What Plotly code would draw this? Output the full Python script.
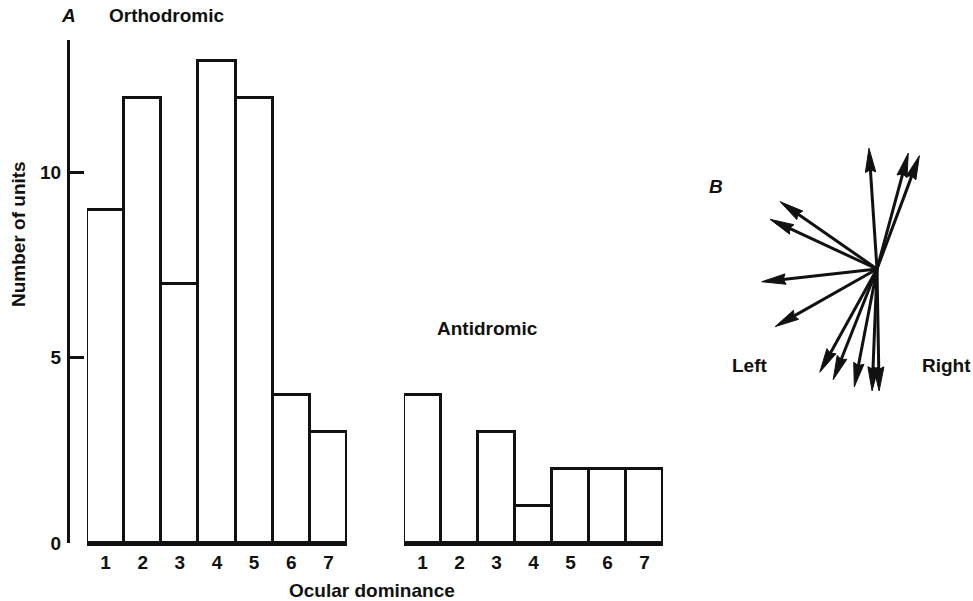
import numpy as np
import plotly.graph_objects as go

# Ocular dominance histograms (panel A)
dominance = [1, 2, 3, 4, 5, 6, 7]
orthodromic = [9, 12, 7, 13, 12, 4, 3]
antidromic = [4, 0, 3, 1, 2, 2, 2]
y_ticks = [0, 5, 10]

# Binocular interaction vectors (panel B): direction in degrees, length
vector_angle = [93.8, 74.9, 69.5, 145.2, 155.1, 186.3, 209.5, 241.0, 248.4, 259.1, 267.7, 271.0]
vector_length = [121, 120, 121, 118, 118, 116, 117, 118, 119, 120, 122, 122]

W, H = 973, 601
FONT = "Liberation Sans"
BLACK = "#111111"


def px_x(p):
    return p / W


def px_y(p):
    return 1 - p / H


fig = go.Figure()

bar_style = dict(marker=dict(color="white", line=dict(color=BLACK, width=3)),
                 width=1.0, cliponaxis=False, hoverinfo="skip", showlegend=False)
fig.add_trace(go.Bar(x=dominance, y=orthodromic, xaxis="x", yaxis="y", **bar_style))
fig.add_trace(go.Bar(x=dominance, y=antidromic, xaxis="x2", yaxis="y", **bar_style))

# Arrows for panel B, built in data units of a 1:1 pixel-scaled axis
head_len, head_half = 24.0, 5.2
shaft_x, shaft_y, head_x, head_y = [], [], [], []
for ang, length in zip(vector_angle, vector_length):
    t = np.deg2rad(ang)
    u = np.array([np.cos(t), np.sin(t)])
    n = np.array([-u[1], u[0]])
    tip = length * u
    base = tip - head_len * u
    notch = tip - 0.9 * head_len * u
    shaft_end = tip - 0.7 * head_len * u
    shaft_x += [0, shaft_end[0], None]
    shaft_y += [0, shaft_end[1], None]
    for p in (tip, base + head_half * n, notch, base - head_half * n, tip):
        head_x.append(p[0])
        head_y.append(p[1])
    head_x.append(None)
    head_y.append(None)

fig.add_trace(go.Scatter(x=shaft_x, y=shaft_y, xaxis="x3", yaxis="y3", mode="lines",
                         line=dict(color=BLACK, width=3), hoverinfo="skip",
                         showlegend=False, cliponaxis=False))
fig.add_trace(go.Scatter(x=head_x, y=head_y, xaxis="x3", yaxis="y3", mode="lines",
                         fill="toself", fillcolor=BLACK, line=dict(color=BLACK, width=1),
                         hoverinfo="skip", showlegend=False, cliponaxis=False))

y0_px, y10_px = 543.0, 172.5
unit_px = (y0_px - y10_px) / 10
y_top_px = 40.0
y_max = (y0_px - y_top_px) / unit_px

tick_font = dict(family=FONT, size=19, color=BLACK, weight="bold")
xaxis_common = dict(range=[0.5, 7.5], tickvals=dominance, ticktext=[str(d) for d in dominance],
                    ticks="", showline=True, linecolor=BLACK, linewidth=3, showgrid=False,
                    zeroline=False, tickfont=tick_font, anchor="y", automargin=False,
                    fixedrange=True)

fig.update_layout(
    width=W, height=H,
    margin=dict(l=0, r=0, t=0, b=0),
    paper_bgcolor="white", plot_bgcolor="white",
    bargap=0,
    xaxis=dict(domain=[px_x(87), px_x(347)], **xaxis_common),
    xaxis2=dict(domain=[px_x(404), px_x(663)], **xaxis_common),
    yaxis=dict(domain=[px_y(y0_px), px_y(y_top_px)], range=[0, y_max], anchor="free",
               position=px_x(68), tickvals=y_ticks, ticks="inside", ticklen=14,
               tickwidth=2.5, tickcolor=BLACK, showline=True, linecolor=BLACK,
               linewidth=3, showgrid=False, zeroline=False, tickfont=tick_font,
               ticklabelstandoff=2, automargin=False, fixedrange=True),
    xaxis3=dict(domain=[px_x(700), 1.0], range=[700 - 877, 973 - 877], visible=False,
                anchor="y3", fixedrange=True),
    yaxis3=dict(domain=[px_y(410), px_y(130)], range=[269 - 410, 269 - 130], visible=False,
                anchor="x3", fixedrange=True),
)

label_font = dict(family=FONT, size=19, color=BLACK, weight="bold")
letter_font = dict(family=FONT, size=19, color=BLACK, weight="bold", style="italic")


def add_text(text, x, y, font, angle=0):
    fig.add_annotation(text=text, x=px_x(x), y=px_y(y), xref="paper", yref="paper",
                       showarrow=False, font=font, textangle=angle,
                       xanchor="center", yanchor="middle")


add_text("A", 68, 16, letter_font)
add_text("Orthodromic", 166, 16, label_font)
add_text("Antidromic", 487, 328, label_font)
add_text("Ocular dominance", 372, 590, label_font)
add_text("Number of units", 18, 234, label_font, angle=-90)
add_text("B", 716, 187, letter_font)
add_text("Left", 750, 365, label_font)
add_text("Right", 946, 365, label_font)

fig.write_html("out.html")
